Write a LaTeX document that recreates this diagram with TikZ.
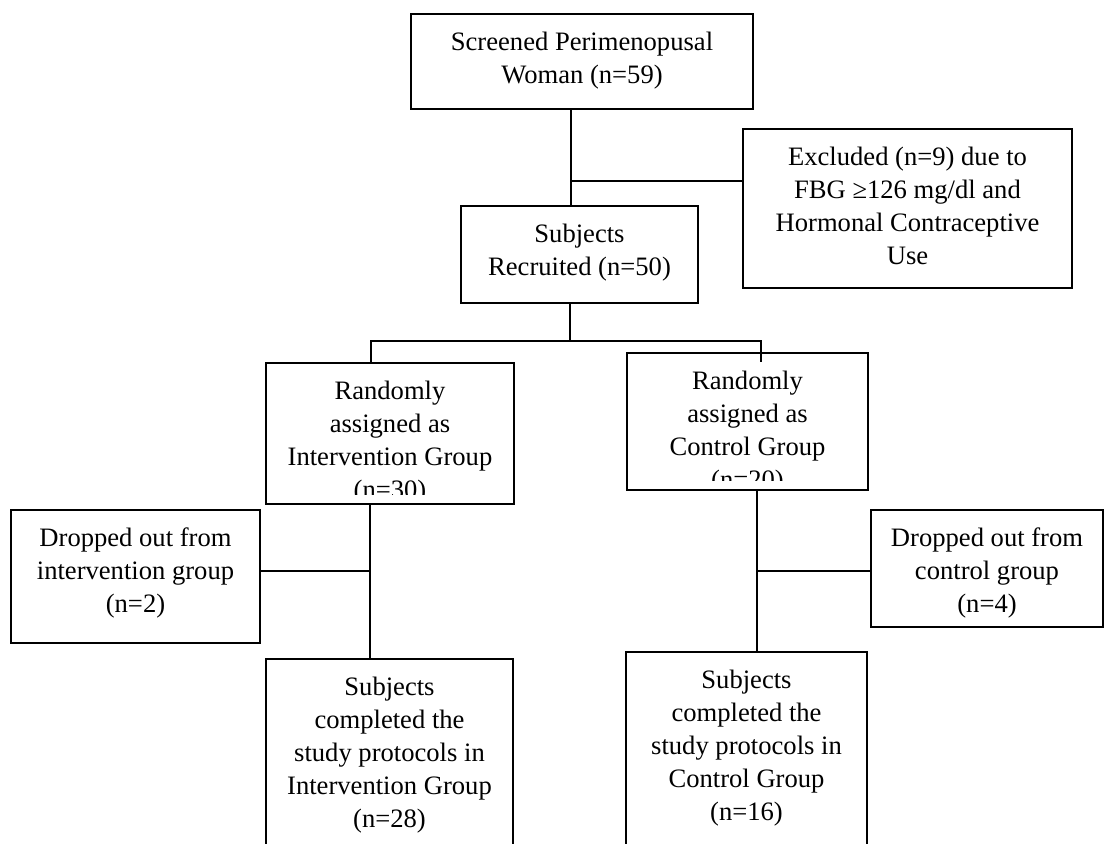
\documentclass[tikz,border=0pt]{standalone}
\usepackage{fontspec}
\setmainfont{Liberation Serif}
\usetikzlibrary{positioning}

\begin{document}
\begin{tikzpicture}
[
	x = 0.5pt, y = -0.5pt,
	box/.style = {draw, line width = 1.4pt, inner sep = 0pt},
	txt/.style = {align = center, inner sep = 0pt, font = \fontsize{13.3}{16.5}\selectfont},
	link/.style = {line width = 0.6pt}
]
\clip (0,0) rectangle (1117,843);
\node[box, minimum width = 171pt, minimum height = 47.5pt] (scr) at (582,61.5) {};
\node[box, minimum width = 164.5pt, minimum height = 79.5pt] (exc) at (907.5,208.5) {};
\node[box, minimum width = 118.5pt, minimum height = 48.5pt] (rec) at (579.5,254.5) {};
\node[box, minimum width = 124pt, minimum height = 70.5pt] (rndl) at (390,433.5) {};
\node[box, minimum width = 120.5pt, minimum height = 68.5pt] (rndr) at (747.5,421.5) {};
\node[box, minimum width = 124.5pt, minimum height = 66.5pt] (dropl) at (135.5,576.5) {};
\node[box, minimum width = 116pt, minimum height = 58.5pt] (dropr) at (987,568.5) {};
\node[box, minimum width = 123.5pt, minimum height = 120.5pt] (compl) at (389.5,779.5) {};
\node[box, minimum width = 120.5pt, minimum height = 124pt] (compr) at (746.5,776) {};

\node[txt, below = 9.5pt of scr.north] (scrtext) {Screened Perimenopusal\\Woman (n=59)};
\node[txt, below = 9.5pt of exc.north] (exctext) {Excluded (n=9) due to\\FBG ≥126 mg/dl and\\Hormonal Contraceptive\\Use};
\node[txt, below = 9.5pt of rec.north] (rectext) {Subjects\\Recruited (n=50)};
\begin{scope}
	\clip (rndl.north west) rectangle ([yshift=5.5pt]rndl.south east);
	\node[txt, below = 9.5pt of rndl.north] (rndltext) {Randomly\\assigned as\\Intervention Group\\(n=30)};
\end{scope}
\begin{scope}
	\clip (rndr.north west) rectangle ([yshift=5.5pt]rndr.south east);
	\node[txt, below = 9.5pt of rndr.north] (rndrtext) {Randomly\\assigned as\\Control Group\\(n=20)};
\end{scope}
\node[txt, below = 9.5pt of dropl.north] (dropltext) {Dropped out from\\intervention group\\(n=2)};
\node[txt, below = 9.5pt of dropr.north] (droprtext) {Dropped out from\\control group\\(n=4)};
\node[txt, below = 9.5pt of compl.north] (compltext) {Subjects\\completed the\\study protocols in\\Intervention Group\\(n=28)};
\node[txt, below = 9.5pt of compr.north] (comprtext) {Subjects\\completed the\\study protocols in\\Control Group\\(n=16)};

\coordinate (j1) at (571,181);
\coordinate (j2) at (570,341);
\coordinate (j2l) at (371,341);
\coordinate (j2r) at (761,341);
\coordinate (j3) at (370,571);
\coordinate (j4) at (757,571);
\draw[link] (j1 |- scr.south) -- (j1 |- rec.north);
\draw[link] (j1) -- (j1 -| exc.west);
\draw[link] (j2 |- rec.south) -- (j2);
\draw[link] (j2l |- rndl.north) -- (j2l) -- (j2r) -- (j2r |- rndl.north);
\draw[link] (j3 |- rndl.south) -- (j3 |- compl.north);
\draw[link] (j3) -- (j3 -| dropl.east);
\draw[link] (j4 |- rndr.south) -- (j4 |- compr.north);
\draw[link] (j4) -- (j4 -| dropr.west);
\end{tikzpicture}
\end{document}
